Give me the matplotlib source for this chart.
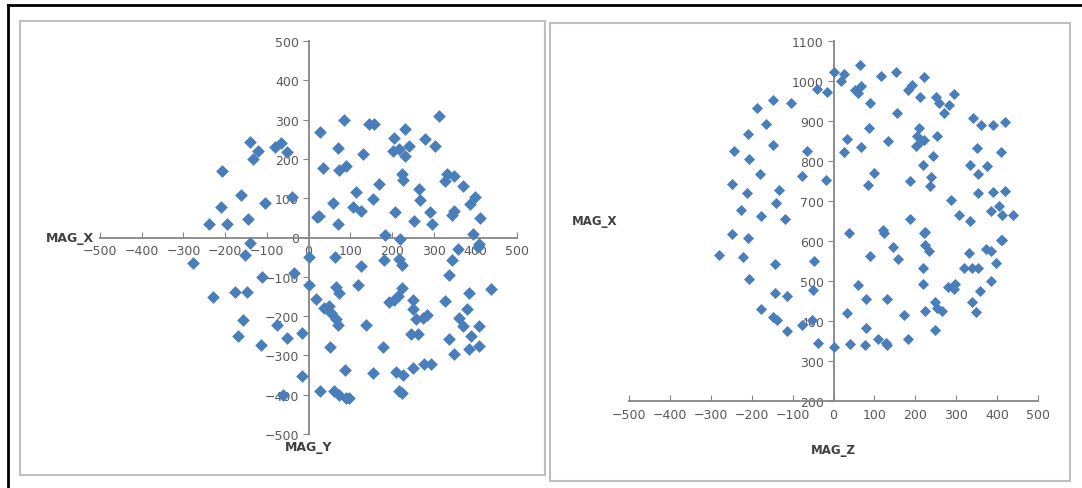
import matplotlib
matplotlib.use("Agg")
import matplotlib.pyplot as plt
from matplotlib.patches import Rectangle
from matplotlib.lines import Line2D

# left chart: MAG_Y (x) vs MAG_X (y)
mag_y = [28, 84, 70, 34, 74, 90, 130, 144, 158, 58, 24, 71, 114, 106, 126, 154, 168, 184, 219,
         208, 227, 206, 232, 218, 202, 232, 242, 224, 252, 266, 268, 280, 304, 314, 291, 296,
         331, 328, 350, 344, 350, 371, 387, 400, 395, 412, 410, 406,
         -277, -208, -239, -210, -196, -161, -144, -140, -153, -140, -134, -121, -105, -81, -65,
         -51, -40, 20, 2, -111, -35, -228, -177, -148, -156, -75, -168, -115, -52, -15, -16, -61,
         2, 18, 38, 48, 54, 66, 70, 66, 74, 64, 51, 27, 62, 74, 90, 98, 88, 118, 126, 138, 155,
         178, 182, 192, 206, 214, 224, 224, 218, 211, 226, 218, 224, 250, 250, 246, 262, 258,
         274, 284, 251, 277, 293, 328, 338, 350, 338, 344, 358, 360, 370, 379, 386, 390, 384,
         410, 408, 438]
mag_x_left = [269, 300, 228, 178, 171, 182, 213, 289, 288, 88, 54, 35, 117, 77, 67, 99, 136, 7, -3,
              64, 146, 254, 275, 224, 220, 207, 233, 161, 41, 123, 95, 251, 233, 308, 64, 35,
              161, 144, 157, 56, 68, 131, 85, 102, 9, 50, -16, -24,
              -65, 169, 35, 78, 35, 108, 47, -14, -45, 243, 201, 220, 89, 230, 241,
              218, 102, 53, -50, -101, -90, -152, -139, -139, -210, -223, -250, -273, -255, -242, -352, -402,
              -121, -157, -179, -175, -192, -208, -223, -125, -142, -50, -279, -390, -390, -400, -408, -408, -338, -121, -73, -223, -344,
              -279, -58, -165, -158, -150, -129, -71, -54, -342, -350, -390, -396, -158, -183, -246, -246, -208,
              -204, -198, -333, -321, -321, -161, -257, -296, -96, -58, -29, -204, -225, -182, -140, -250, -283,
              -226, -277, -132]

# right chart: MAG_Z (x) vs MAG_X (y)
mag_z = [2, 18, 26, 65, 52, 67, 60, 90, 116, 152, 155, 183, 193, 212, 222, 250, 258, 269, 283, 295,
         34, 26, 68, 87, 134, 208, 204, 214, 201, 222, 252, 244, 220, 238, 236, 187, 98, 85,
         -19, -78, -64, -41, -15, -104,
         342, 360, 350, 389, 419, 409, 334, 353, 376, 353, 389, 419, 440, 405, 385, 411,
         287, 307, 334, 187, 223, 38, 122, 411,
         -149, -187, -165, -209, -244, -206, -147, -179, -249, -212, -134, -141, -225, -178, -119,
         -249, -208, -279, -222, -206, -143, -47, -49, -143, -114, -178, -147, -139, -113, -78, -53, -37, 0,
         41, 34, 59, 79, 79, 77, 90, 108, 128, 132, 132, 145, 157, 172, 183, 124,
         218, 218, 224, 234, 222, 224, 248, 253, 265, 247, 281, 294, 296, 319, 331, 338, 353,
         338, 349, 359, 373, 386, 384, 398, 410]
mag_x_right = [1022, 1001, 1018, 1039, 978, 988, 971, 945, 1013, 1022, 921, 977, 990, 959, 1009, 959, 946, 921, 939, 967,
               854, 822, 835, 883, 849, 883, 862, 849, 837, 853, 862, 812, 791, 761, 738, 751, 771, 740,
               753, 763, 824, 980, 973, 946,
               908, 891, 833, 889, 897, 822, 791, 768, 788, 719, 722, 726, 666, 687, 675, 665,
               702, 666, 650, 654, 623, 620, 627, 603,
               953, 932, 892, 868, 826, 806, 839, 767, 743, 720, 727, 695, 677, 662, 656,
               618, 608, 565, 560, 505, 542, 549, 478, 471, 463, 431, 410, 402, 375, 389, 402, 344, 334,
               342, 420, 491, 455, 383, 340, 563, 356, 344, 340, 455, 585, 555, 414, 356, 621,
               532, 493, 590, 575, 621, 426, 447, 433, 426, 377, 484, 480, 493, 532, 569, 532, 532,
               447, 422, 474, 579, 575, 501, 546, 602]

x_ticks = [-500, -400, -300, -200, -100, 0, 100, 200, 300, 400, 500]
left_y_ticks = [-500, -400, -300, -200, -100, 0, 100, 200, 300, 400, 500]
right_y_ticks = [200, 300, 400, 500, 600, 700, 800, 900, 1000, 1100]

BLUE = "#4a7ebb"
AXIS = "#868686"
TEXT = "#595959"

fig = plt.figure(figsize=(10.82, 4.89), dpi=100)

# panel frames and outer border
fig.add_artist(Rectangle((20 / 1082, 1 - 476 / 489), 525 / 1082, 454 / 489,
                         transform=fig.transFigure, fill=False, ec="#bfbfbf", lw=1.5))
fig.add_artist(Rectangle((550 / 1082, 1 - 482 / 489), 520 / 1082, 458 / 489,
                         transform=fig.transFigure, fill=False, ec="#bfbfbf", lw=1.5))
fig.add_artist(Line2D([8 / 1082, 8 / 1082], [0, 1 - 6 / 489], transform=fig.transFigure, color="black", lw=2))
fig.add_artist(Line2D([8 / 1082, 1], [1 - 6 / 489, 1 - 6 / 489], transform=fig.transFigure, color="black", lw=2))


def style_axes(ax):
    for s in ["top", "right"]:
        ax.spines[s].set_visible(False)
    for s in ["left", "bottom"]:
        ax.spines[s].set_color(AXIS)
        ax.spines[s].set_linewidth(1.3)
    ax.tick_params(axis="x", direction="in", length=4, color=AXIS, labelcolor=TEXT, labelsize=9, pad=5)
    ax.tick_params(axis="y", direction="out", length=4, color=AXIS, labelcolor=TEXT, labelsize=9, pad=3)
    ax.set_facecolor("none")


# left chart
ax1 = fig.add_axes([100 / 1082, 54 / 489, 417 / 1082, 393 / 489])
ax1.scatter(mag_y, mag_x_left, marker="D", s=42, color=BLUE, zorder=3, linewidths=0)
ax1.set_xlim(-500, 500)
ax1.set_ylim(-500, 500)
ax1.spines["left"].set_position(("data", 0))
ax1.spines["bottom"].set_position(("data", 0))
ax1.set_xticks(x_ticks)
ax1.set_yticks(left_y_ticks)
style_axes(ax1)
ax1.text(-515, 0, "MAG_X", ha="right", va="center", fontsize=9, fontweight="bold", color="#404040")
ax1.text(0, -515, "MAG_Y", ha="center", va="top", fontsize=9, fontweight="bold", color="#404040")

# right chart
ax2 = fig.add_axes([629 / 1082, 87 / 489, 409 / 1082, 360 / 489])
ax2.scatter(mag_z, mag_x_right, marker="D", s=32, color=BLUE, zorder=3, linewidths=0)
ax2.set_xlim(-500, 500)
ax2.set_ylim(200, 1100)
ax2.spines["left"].set_position(("data", 0))
ax2.set_xticks(x_ticks)
ax2.set_yticks(right_y_ticks)
style_axes(ax2)
ax2.text(-640, 650, "MAG_X", ha="left", va="center", fontsize=8.5, fontweight="bold", color="#404040")
ax2.text(0, 95, "MAG_Z", ha="center", va="top", fontsize=8.5, fontweight="bold", color="#404040")

fig.savefig("out.png", dpi=100)
